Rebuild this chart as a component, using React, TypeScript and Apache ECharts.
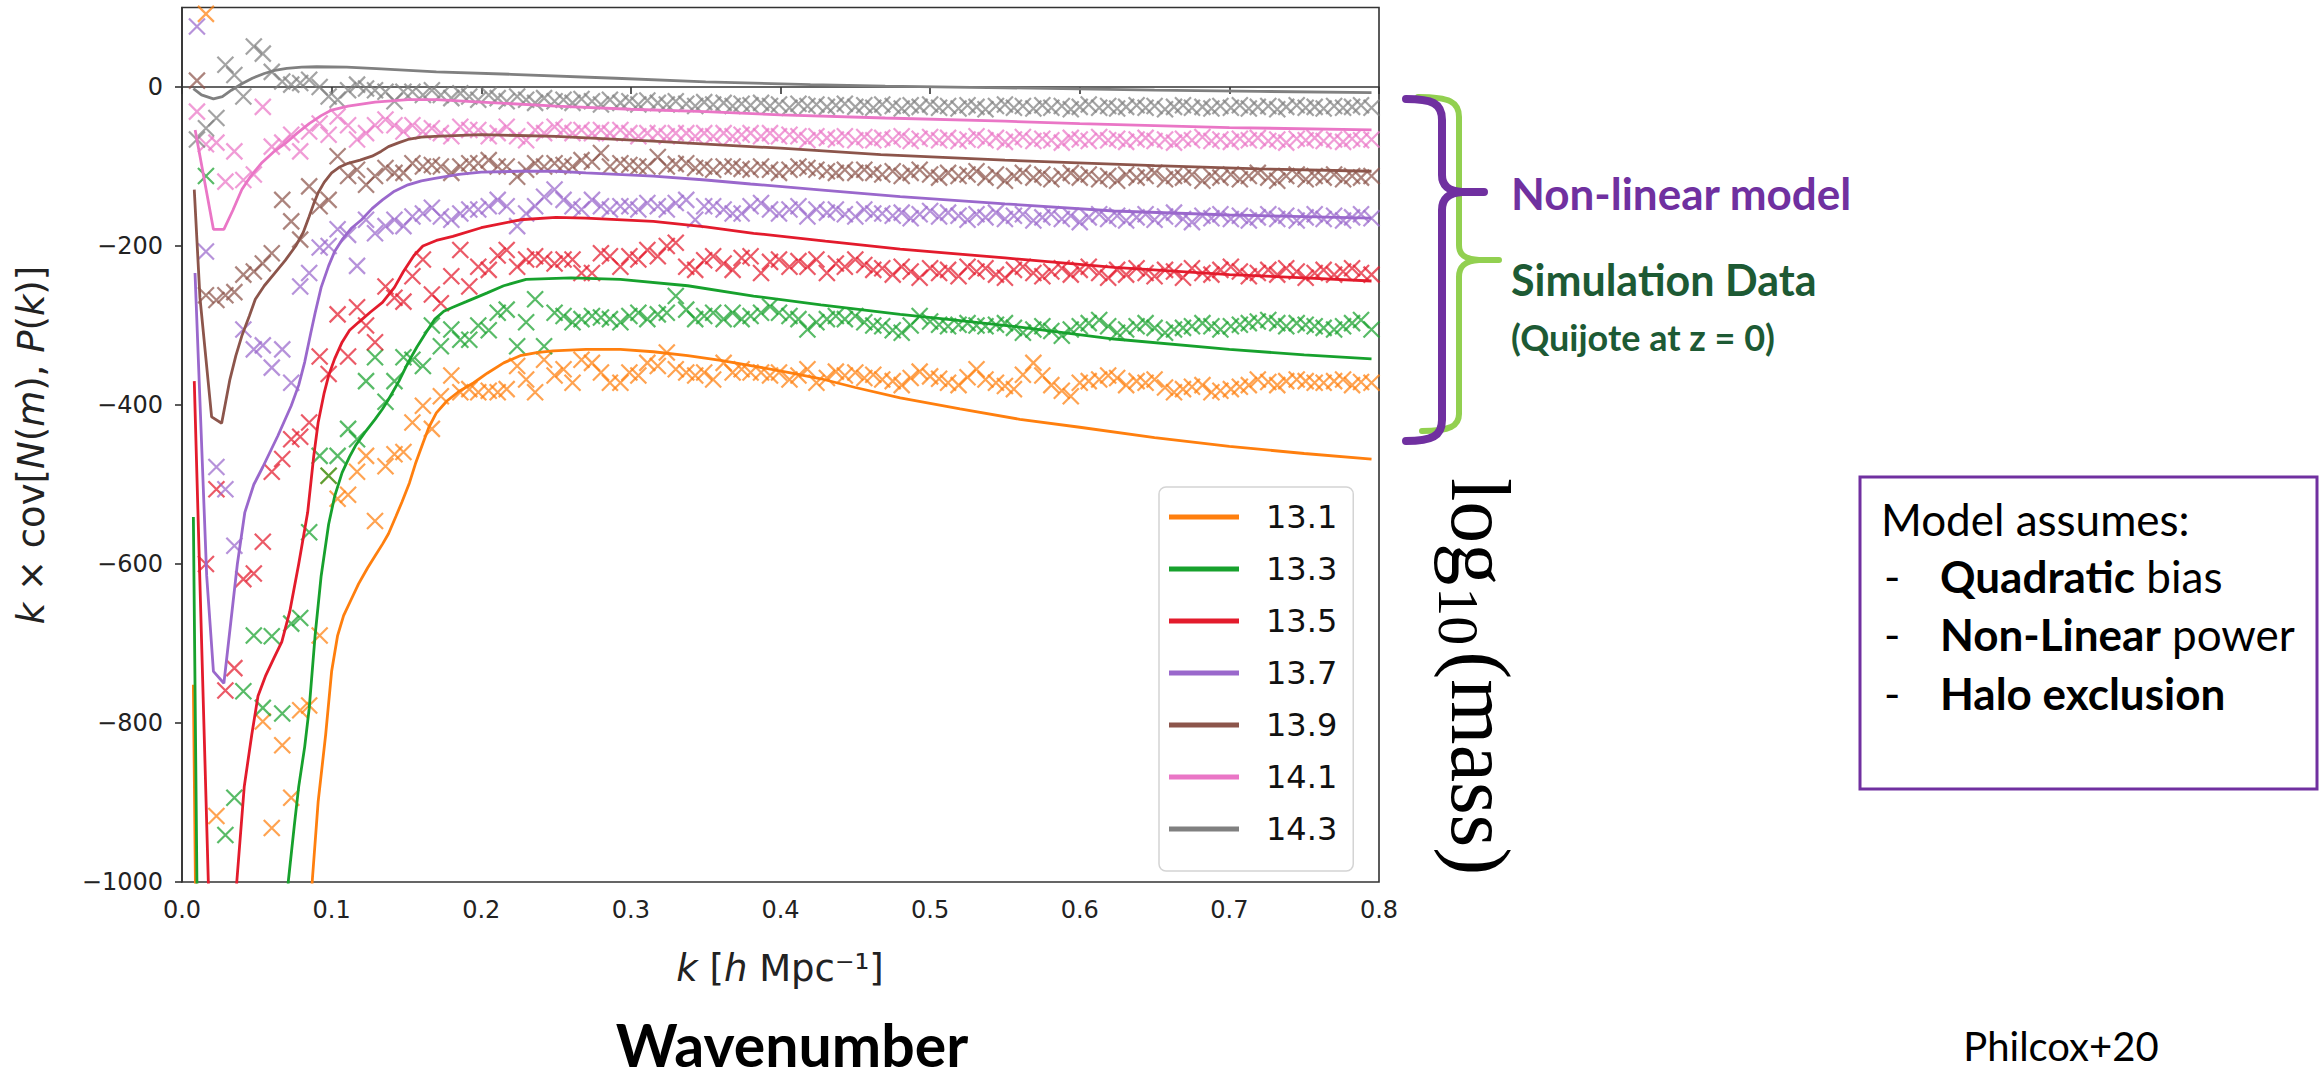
import React, { useEffect, useRef } from "react";
import * as echarts from "echarts";

// k bins (h/Mpc) of the simulation points
const K = [
  0.010, 0.016, 0.023, 0.029, 0.035, 0.041, 0.048, 0.054, 0.060, 0.067,
  0.073, 0.079, 0.085, 0.092, 0.098, 0.104, 0.111, 0.117, 0.123, 0.129,
  0.136, 0.142, 0.148, 0.154, 0.161, 0.167, 0.173, 0.180, 0.186, 0.192,
  0.198, 0.205, 0.211, 0.217, 0.224, 0.230, 0.236, 0.242, 0.249, 0.255,
  0.261, 0.267, 0.274, 0.280, 0.286, 0.293, 0.299, 0.305, 0.311, 0.318,
  0.324, 0.330, 0.337, 0.343, 0.349, 0.355, 0.362, 0.368, 0.374, 0.380,
  0.387, 0.393, 0.399, 0.406, 0.412, 0.418, 0.424, 0.431, 0.437, 0.443,
  0.450, 0.456, 0.462, 0.468, 0.475, 0.481, 0.487, 0.493, 0.500, 0.506,
  0.512, 0.519, 0.525, 0.531, 0.537, 0.544, 0.550, 0.556, 0.562, 0.569,
  0.575, 0.581, 0.588, 0.594, 0.600, 0.606, 0.613, 0.619, 0.625, 0.631,
  0.638, 0.644, 0.650, 0.657, 0.663, 0.669, 0.675, 0.682, 0.688, 0.694,
  0.701, 0.707, 0.713, 0.719, 0.726, 0.732, 0.738, 0.745, 0.751, 0.757,
  0.763, 0.770, 0.776, 0.782, 0.788, 0.795,
];

// Simulation data (crosses); null = outside the plotted range
const DATA_131 = [
  null, 92, -917, null, null, null, null, -798, -932, -828,
  -894, -784, -778, -690, -489, -518, -513, -484, -464, -546,
  -477, -462, -459, -422, -401, -430, -389, -363, -384, -380,
  -384, -382, -384, -380, -351, -368, -384, -343, -363, -355,
  -372, -343, -347, -359, -372, -372, -359, -363, -347, -351,
  -334, -355, -359, -363, -359, -368, -347, -359, -355, -359,
  -359, -363, -359, -368, -363, -355, -372, -366, -358, -363,
  -359, -366, -362, -368, -370, -375, -366, -358, -364, -367,
  -372, -375, -365, -355, -368, -372, -376, -380, -362, -347,
  -363, -375, -382, -389, -372, -370, -368, -363, -366, -375,
  -370, -372, -368, -378, -384, -380, -377, -375, -384, -382,
  -380, -377, -375, -368, -371, -375, -370, -368, -370, -372,
  -372, -370, -368, -375, -371, -372,
];
const DATA_133 = [
  null, -112, null, -941, -894, -760, -690, -781, -691, -788,
  -675, -668, -560, -464, -489, -464, -430, -443, -370, -340,
  -396, -370, -340, -343, -351, -300, -326, -305, -318, -318,
  -300, -306, -284, -280, -326, -296, -267, -326, -284, -288,
  -296, -292, -288, -290, -292, -296, -288, -284, -292, -286,
  -284, -263, -280, -292, -288, -284, -292, -284, -292, -288,
  -284, -276, -284, -288, -292, -305, -296, -292, -288, -292,
  -288, -296, -300, -301, -306, -309, -300, -288, -295, -299,
  -301, -299, -297, -300, -301, -299, -297, -303, -309, -305,
  -301, -307, -313, -305, -301, -297, -293, -301, -309, -305,
  -301, -297, -303, -309, -305, -303, -301, -297, -301, -305,
  -301, -299, -297, -295, -293, -297, -301, -297, -299, -301,
  -303, -305, -301, -297, -293, -305,
];
const DATA_135 = [
  null, -600, -506, -759, -731, -619, -612, -572, -484, -468,
  -443, -440, -422, -339, -361, -286, -339, -277, -300, -321,
  -251, -265, -270, -238, -217, -261, -272, -238, -205, -251,
  -226, -230, -212, -205, -226, -217, -213, -217, -222, -217,
  -217, -234, -234, -209, -213, -226, -213, -217, -205, -213,
  -200, -196, -226, -230, -218, -213, -222, -230, -215, -213,
  -234, -220, -217, -226, -219, -226, -217, -234, -222, -226,
  -217, -224, -230, -228, -236, -226, -232, -240, -228, -234,
  -230, -238, -226, -232, -228, -236, -240, -230, -226, -234,
  -238, -232, -228, -236, -230, -226, -234, -240, -230, -236,
  -228, -234, -238, -230, -232, -240, -228, -234, -236, -230,
  -226, -232, -238, -234, -230, -236, -228, -232, -240, -234,
  -230, -236, -232, -228, -234, -236,
];
const DATA_137 = [
  76, -207, -478, -506, -577, -305, -330, -325, -353, -330,
  -372, -251, -234, -202, -200, -179, -186, -225, -167, -184,
  -175, -167, -175, -163, -159, -152, -163, -167, -159, -154,
  -154, -150, -142, -150, -175, -159, -150, -138, -129, -142,
  -150, -154, -142, -150, -154, -150, -150, -154, -146, -150,
  -154, -146, -142, -167, -150, -150, -154, -159, -159, -150,
  -146, -154, -159, -154, -150, -163, -154, -158, -154, -160,
  -163, -154, -159, -159, -162, -158, -165, -160, -156, -163,
  -158, -162, -167, -160, -164, -158, -166, -162, -160, -168,
  -164, -160, -166, -162, -170, -164, -160, -166, -162, -168,
  -164, -160, -167, -163, -158, -166, -170, -162, -165, -160,
  -166, -162, -168, -164, -160, -166, -162, -168, -164, -160,
  -166, -162, -168, -164, -160, -165,
];
const DATA_139 = [
  8, -262, -268, -262, -258, -236, -232, -222, -209, -142,
  -169, -192, -125, -150, -142, -87, -112, -104, -123, -112,
  -102, -108, -108, -96, -100, -98, -100, -108, -100, -96,
  -96, -92, -100, -100, -113, -104, -96, -100, -96, -98,
  -100, -92, -94, -83, -100, -96, -98, -100, -100, -88,
  -100, -97, -96, -102, -100, -104, -100, -100, -103, -104,
  -100, -104, -108, -104, -100, -102, -104, -106, -108, -104,
  -108, -104, -108, -110, -106, -112, -108, -104, -110, -114,
  -108, -112, -110, -106, -114, -110, -118, -112, -108, -114,
  -110, -116, -112, -108, -114, -110, -116, -112, -118, -110,
  -114, -112, -108, -116, -112, -114, -110, -118, -112, -114,
  -110, -116, -112, -108, -114, -118, -112, -110, -116, -112,
  -114, -110, -116, -112, -114, -112,
];
const DATA_141 = [
  -31, -72, -70, -119, -81, -117, -110, -25, -75, -70,
  -60, -81, -56, -46, -60, -37, -48, -66, -58, -48,
  -41, -48, -56, -48, -56, -52, -58, -62, -50, -54,
  -54, -62, -58, -50, -62, -67, -54, -58, -50, -54,
  -58, -54, -58, -54, -58, -54, -58, -62, -58, -58,
  -62, -58, -58, -62, -58, -62, -58, -62, -60, -58,
  -62, -58, -62, -60, -62, -67, -62, -64, -66, -62,
  -67, -63, -67, -64, -66, -62, -68, -65, -63, -67,
  -64, -68, -66, -62, -67, -64, -69, -66, -63, -68,
  -65, -67, -70, -64, -66, -68, -63, -67, -65, -69,
  -66, -64, -68, -66, -70, -65, -67, -63, -68, -66,
  -69, -65, -67, -64, -68, -66, -70, -65, -67, -64,
  -68, -66, -69, -65, -67, -66,
];
const DATA_143 = [
  -66, -52, -39, 28, 15, -12, 51, 42, 19, 7,
  3, 5, 9, 0, -12, -16, -4, 3, -2, -4,
  -6, -18, -6, -6, -10, -4, -10, -14, -8, -12,
  -16, -10, -14, -18, -12, -16, -20, -14, -18, -16,
  -20, -15, -18, -22, -16, -20, -18, -22, -17, -20,
  -22, -18, -21, -24, -19, -22, -20, -24, -21, -23,
  -20, -24, -22, -26, -21, -24, -22, -25, -23, -21,
  -25, -23, -26, -22, -24, -27, -23, -25, -22, -26,
  -24, -27, -23, -25, -28, -24, -22, -26, -24, -27,
  -23, -26, -24, -28, -25, -22, -26, -24, -27, -25,
  -23, -26, -24, -28, -25, -23, -26, -25, -27, -24,
  -26, -23, -27, -25, -24, -28, -25, -23, -26, -25,
  -27, -24, -26, -25, -23, -26,
];

// Non-linear model curves [k, value]; values beyond the axis are clipped
const MODEL_131 = [
  [0.0076, -752], [0.0095, -1100], [0.03, -1600], [0.06, -1600], [0.08, -1200], [0.087, -1000],
  [0.091, -899], [0.096, -815], [0.1, -735], [0.104, -690], [0.108, -665], [0.113, -645],
  [0.118, -625], [0.124, -605], [0.129, -590], [0.134, -575], [0.138, -562], [0.143, -540],
  [0.147, -522], [0.152, -498], [0.156, -474], [0.161, -448], [0.165, -428], [0.17, -410],
  [0.177, -395], [0.185, -383], [0.195, -372], [0.204, -360], [0.215, -347], [0.226, -338],
  [0.237, -334], [0.248, -332], [0.27, -330], [0.293, -330], [0.315, -333], [0.338, -338],
  [0.36, -344], [0.382, -351], [0.405, -359], [0.427, -367], [0.45, -378], [0.48, -391],
  [0.52, -405], [0.56, -418], [0.6, -428], [0.65, -441], [0.7, -452], [0.75, -461], [0.795, -468],
];
const MODEL_133 = [
  [0.0076, -541], [0.0105, -1100], [0.03, -1700], [0.05, -1700], [0.065, -1250], [0.071, -1000],
  [0.075, -930], [0.078, -880], [0.082, -830], [0.085, -782], [0.089, -689], [0.093, -615],
  [0.098, -550], [0.102, -515], [0.107, -485], [0.112, -465], [0.116, -451], [0.122, -435],
  [0.129, -418], [0.134, -405], [0.138, -393], [0.145, -370], [0.151, -347], [0.157, -327],
  [0.163, -309], [0.169, -292], [0.175, -282], [0.181, -277], [0.19, -270], [0.204, -259],
  [0.215, -250], [0.23, -242], [0.26, -240], [0.293, -242], [0.338, -250], [0.382, -263],
  [0.427, -274], [0.48, -286], [0.52, -294], [0.56, -302], [0.623, -317], [0.7, -330],
  [0.75, -337], [0.795, -342],
];
const MODEL_135 = [
  [0.0082, -370], [0.0176, -1000], [0.024, -1300], [0.03, -1250], [0.0366, -1000], [0.0416, -880],
  [0.0466, -815], [0.0508, -766], [0.056, -740], [0.0615, -718], [0.0667, -698], [0.072, -660],
  [0.078, -600], [0.084, -535], [0.088, -465], [0.091, -422], [0.095, -385], [0.098, -363],
  [0.102, -342], [0.107, -321], [0.112, -306], [0.118, -296], [0.126, -283], [0.134, -271],
  [0.142, -252], [0.148, -232], [0.155, -212], [0.161, -200], [0.17, -193], [0.181, -188],
  [0.2, -177], [0.226, -167], [0.25, -164], [0.27, -165], [0.315, -169], [0.35, -176],
  [0.382, -184], [0.43, -194], [0.48, -204], [0.55, -215], [0.623, -227], [0.7, -236],
  [0.75, -240], [0.795, -244],
];
const MODEL_137 = [
  [0.0087, -234], [0.0165, -615], [0.021, -735], [0.028, -750], [0.037, -600], [0.042, -535],
  [0.048, -500], [0.054, -478], [0.064, -439], [0.073, -401], [0.078, -375], [0.082, -346],
  [0.086, -310], [0.089, -284], [0.093, -252], [0.098, -225], [0.102, -207], [0.107, -192],
  [0.113, -178], [0.12, -167], [0.127, -153], [0.134, -142], [0.142, -131], [0.151, -123],
  [0.16, -118], [0.169, -115], [0.185, -110], [0.2, -107], [0.226, -106], [0.25, -106],
  [0.27, -108], [0.315, -112], [0.35, -117], [0.38, -122], [0.43, -130], [0.48, -138],
  [0.55, -147], [0.623, -156], [0.7, -161], [0.795, -165],
];
const MODEL_139 = [
  [0.0082, -129], [0.012, -265], [0.0198, -415], [0.0265, -423], [0.032, -368], [0.036, -338],
  [0.04, -313], [0.045, -288], [0.049, -267], [0.055, -250], [0.062, -234], [0.069, -218],
  [0.076, -200], [0.081, -183], [0.085, -163], [0.088, -147], [0.091, -133], [0.095, -120],
  [0.1, -108], [0.105, -101], [0.111, -96], [0.119, -92], [0.127, -87], [0.133, -81],
  [0.138, -75], [0.145, -70], [0.151, -66], [0.16, -63], [0.169, -62], [0.2, -60],
  [0.25, -62], [0.315, -68], [0.4, -77], [0.467, -85], [0.55, -92], [0.65, -99],
  [0.72, -103], [0.795, -106],
];
const MODEL_141 = [
  [0.0088, -54], [0.021, -179], [0.028, -179], [0.034, -155], [0.04, -129], [0.046, -112],
  [0.053, -96], [0.061, -82], [0.069, -71], [0.077, -58], [0.085, -46], [0.093, -36],
  [0.1, -29], [0.111, -24], [0.129, -19], [0.151, -16], [0.17, -16], [0.2, -19],
  [0.25, -24], [0.3, -28], [0.35, -31], [0.4, -35], [0.47, -39], [0.55, -43],
  [0.6, -46], [0.7, -51], [0.795, -54],
];
const MODEL_143 = [
  [0.0076, -2], [0.013, -10], [0.021, -15], [0.027, -12], [0.033, -4], [0.04, 4],
  [0.047, 11], [0.055, 17], [0.062, 21], [0.07, 23.5], [0.08, 25], [0.09, 25.5],
  [0.11, 25], [0.13, 23], [0.17, 19], [0.22, 16], [0.29, 11], [0.35, 6.5],
  [0.42, 3], [0.47, 1], [0.55, -1], [0.65, -4], [0.72, -5.5], [0.795, -7],
];

const LEVELS = ["13.1", "13.3", "13.5", "13.7", "13.9", "14.1", "14.3"];
const COLORS = ["#ff7f0e", "#17a12d", "#e31b2c", "#9a68cc", "#8c554b", "#ea76c6", "#808080"];
const SIM_DATA = [DATA_131, DATA_133, DATA_135, DATA_137, DATA_139, DATA_141, DATA_143];
const MODELS = [MODEL_131, MODEL_133, MODEL_135, MODEL_137, MODEL_139, MODEL_141, MODEL_143];
const Y_TICKS = [-1000, -800, -600, -400, -200, 0];

const PURPLE_BRACE =
  "M1406 99 C1432 99 1442 103 1442 120 L1442 175 C1442 186 1449 191 1462 192 L1484 192 M1462 192 C1449 193 1442 198 1442 210 L1442 420 C1442 436 1432 441 1406 441";
const GREEN_BRACE =
  "M1418 97 C1450 97 1459 102 1459 117 L1459 245 C1459 255 1465 259 1479 260 L1499 260 M1479 260 C1465 261 1459 266 1459 277 L1459 414 C1459 426 1450 431 1422 431";

const SANS = "Lato";
const MPL = "DejaVu Sans";
const SERIF = "Liberation Serif";

export default function App() {
  const ref = useRef<HTMLDivElement>(null);

  useEffect(() => {
    if (!ref.current) return;
    try {
      echarts.graphic.registerShape("purpleBrace", echarts.graphic.extendPath(PURPLE_BRACE, {}));
      echarts.graphic.registerShape("greenBrace", echarts.graphic.extendPath(GREEN_BRACE, {}));
    } catch (e) {
      /* already registered */
    }
    const chart = echarts.init(ref.current, null, { renderer: "svg" });

    const LOG_FS = 84;
    const SUB_FS = 58;
    const ctx = document.createElement("canvas").getContext("2d") as CanvasRenderingContext2D;
    ctx.font = `${LOG_FS}px "${SERIF}"`;
    const wLog = ctx.measureText("log").width;
    ctx.font = `${SUB_FS}px "${SERIF}"`;
    const wSub = ctx.measureText("10").width;

    const series: any[] = [];
    LEVELS.forEach((lab, i) => {
      series.push({
        name: lab,
        type: "line",
        data: MODELS[i],
        showSymbol: false,
        symbol: "none",
        clip: true,
        color: COLORS[i],
        lineStyle: { width: 2.8, color: COLORS[i] },
        emphasis: { disabled: true },
      });
      const pts: any[] = [];
      K.forEach((k, j) => {
        const v = SIM_DATA[i][j];
        if (v !== null && v !== undefined) pts.push([k, v]);
      });
      series.push({
        name: lab + " sim",
        type: "scatter",
        data: pts,
        symbol: "path://M0,0L10,10M10,0L0,10",
        symbolSize: 16,
        clip: true,
        itemStyle: { color: COLORS[i], borderColor: COLORS[i], borderWidth: 2.2, opacity: 0.72 },
        emphasis: { disabled: true },
      });
    });

    const txt = (x: number, y: number, text: string, o: any = {}) => ({
      type: "text",
      x,
      y,
      silent: true,
      style: {
        text,
        fill: o.fill || "#000",
        fontSize: o.fontSize || 44,
        fontFamily: o.fontFamily || SANS,
        fontWeight: o.fontWeight || "normal",
        align: o.align || "left",
        verticalAlign: "middle",
        rich: o.rich,
      },
    });

    const boldRich = { b: { fontWeight: "bold", fontSize: 44, fontFamily: SANS, fill: "#000" } };
    const italic = (fs: number) => ({ i: { fontStyle: "italic", fontSize: fs, fontFamily: MPL, fill: "#222" } });
    const LABEL_FS = 37;

    const option: any = {
      animation: false,
      backgroundColor: "#ffffff",
      grid: {
        left: 182,
        top: 7.5,
        width: 1197,
        height: 874.5,
        show: true,
        borderColor: "#333",
        borderWidth: 1.6,
        backgroundColor: "transparent",
      },
      xAxis: {
        type: "value",
        min: 0,
        max: 0.8,
        interval: 0.1,
        axisLine: { show: true, lineStyle: { color: "#333", width: 1.6 } },
        axisTick: { show: true, length: 7, lineStyle: { color: "#333", width: 1.6 } },
        axisLabel: {
          fontSize: 24,
          fontFamily: MPL,
          color: "#222",
          margin: 16,
          formatter: (v: number) => v.toFixed(1),
        },
        splitLine: { show: false },
      },
      yAxis: {
        type: "value",
        min: -1000,
        max: 100,
        interval: 200,
        axisLine: { show: true, lineStyle: { color: "#333", width: 1.6 } },
        axisTick: { show: true, length: 7, customValues: Y_TICKS, lineStyle: { color: "#333", width: 1.6 } },
        axisLabel: {
          customValues: Y_TICKS,
          fontSize: 24,
          fontFamily: MPL,
          color: "#222",
          margin: 19,
          formatter: (v: number) => (v > 50 ? "" : v < 0 ? "\u2212" + Math.abs(v) : String(v)),
        },
        splitLine: { show: false },
      },
      legend: {
        data: LEVELS,
        orient: "vertical",
        left: 1159,
        top: 487,
        icon: "rect",
        itemWidth: 70,
        itemHeight: 5,
        itemGap: 16,
        padding: [12, 16, 24, 10],
        backgroundColor: "rgba(255,255,255,0.85)",
        borderColor: "#d4d4d4",
        borderWidth: 1.5,
        borderRadius: 7,
        selectedMode: false,
        textStyle: { fontSize: 32, fontFamily: MPL, color: "#111", lineHeight: 36, padding: [0, 0, 0, 22] },
      },
      series,
      graphic: {
        elements: [
          // axis titles
          {
            type: "text",
            x: 31,
            y: 445,
            rotation: Math.PI / 2,
            silent: true,
            style: {
              text: "{i|k} \u00d7 cov[{i|N}({i|m}), {i|P}({i|k})]",
              rich: italic(LABEL_FS),
              fontSize: LABEL_FS,
              fontFamily: MPL,
              fill: "#222",
              align: "center",
              verticalAlign: "middle",
            },
          },
          {
            type: "text",
            x: 780,
            y: 968,
            silent: true,
            style: {
              text: "{i|k} [{i|h} Mpc\u207b\u00b9]",
              rich: italic(LABEL_FS),
              fontSize: LABEL_FS,
              fontFamily: MPL,
              fill: "#222",
              align: "center",
              verticalAlign: "middle",
            },
          },
          txt(792, 1044, "Wavenumber", { fontSize: 59, fontWeight: "bold", align: "center" }),
          txt(2061, 1046, "Philcox+20", { fontSize: 40, align: "center" }),
          // braces
          {
            type: "greenBrace",
            silent: true,
            style: { fill: null, stroke: "#92d050", lineWidth: 6, lineCap: "round", lineJoin: "round" },
          },
          {
            type: "purpleBrace",
            silent: true,
            style: { fill: null, stroke: "#7030a0", lineWidth: 8, lineCap: "round", lineJoin: "round" },
          },
          txt(1511, 193, "Non-linear model", { fontSize: 44, fontWeight: "bold", fill: "#7030a0" }),
          txt(1511, 279, "Simulation Data", { fontSize: 43, fontWeight: "bold", fill: "#1d5a34" }),
          txt(1511, 337, "(Quijote at z = 0)", { fontSize: 36, fontWeight: "bold", fill: "#1d5a34" }),
          // log10(mass), reading top to bottom
          {
            type: "group",
            x: 1480,
            y: 478,
            rotation: -Math.PI / 2,
            silent: true,
            children: [
              { type: "text", x: 0, y: 0, style: { text: "log", fontSize: LOG_FS, fontFamily: SERIF, fill: "#000", verticalAlign: "middle" } },
              { type: "text", x: wLog + 2, y: 22, style: { text: "10", fontSize: SUB_FS, fontFamily: SERIF, fill: "#000", verticalAlign: "middle" } },
              { type: "text", x: wLog + wSub + 8, y: 0, style: { text: "(mass)", fontSize: LOG_FS, fontFamily: SERIF, fill: "#000", verticalAlign: "middle" } },
            ],
          },
          // model box
          {
            type: "rect",
            silent: true,
            shape: { x: 1860, y: 477, width: 457, height: 312 },
            style: { fill: null, stroke: "#7030a0", lineWidth: 3 },
          },
          txt(1881, 519, "Model assumes:"),
          txt(1884, 576, "-"),
          txt(1940, 576, "{b|Quadratic} bias", { rich: boldRich }),
          txt(1884, 634, "-"),
          txt(1940, 634, "{b|Non-Linear} power", { rich: boldRich }),
          txt(1884, 693, "-"),
          txt(1940, 693, "{b|Halo exclusion}", { rich: boldRich }),
        ],
      },
    };

    chart.setOption(option);
    return () => chart.dispose();
  }, []);

  return (
    <div
      ref={ref}
      style={{ position: "fixed", left: 0, top: 0, width: "2323px", height: "1089px", background: "#fff" }}
    />
  );
}
